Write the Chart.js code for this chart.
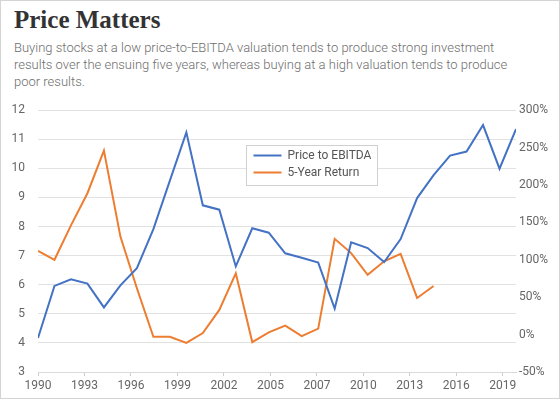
<!DOCTYPE html>
<html>
<head>
<meta charset="utf-8">
<script src="https://cdn.jsdelivr.net/npm/chart.js@4/dist/chart.umd.min.js"></script>
<style>
  html, body { margin: 0; padding: 0; background: #fff; }
  #wrap { position: relative; width: 560px; height: 399px; overflow: hidden; background: #fff; }
  #frame { position: absolute; left: 0; top: 0; width: 560px; height: 399px; box-sizing: border-box; border: 1px solid #d4d4d4; pointer-events: none; }
  h1 { position: absolute; left: 14px; top: 5px; margin: 0; font-family: "Liberation Serif", serif; font-weight: bold; font-size: 25px; line-height: 30px; color: #333; }
  .sub { position: absolute; left: 14px; top: 39px; margin: 0; font-family: Roboto, sans-serif; font-weight: 300; font-size: 13px; line-height: 17px; color: #6e6e6e; }
  #box { position: absolute; left: 0; top: 90px; width: 560px; height: 309px; }
</style>
</head>
<body>
<div id="wrap">
  <h1>Price Matters</h1>
  <p class="sub">Buying stocks at a low price-to-EBITDA valuation tends to produce strong investment<br>results over the ensuing five years, whereas buying at a high valuation tends to produce<br>poor results.</p>
  <div id="box"><canvas id="myChart"></canvas></div>
  <div id="frame"></div>
</div>
<script>
let years = [1990, 1991, 1992, 1993, 1994, 1995, 1996, 1997, 1998, 1999,
             2000, 2001, 2002, 2003, 2004, 2005, 2006, 2007, 2008, 2009,
             2010, 2011, 2012, 2013, 2014, 2015, 2016, 2017, 2018, 2019];
let priceToEbitda = [4.17, 5.96, 6.19, 6.04, 5.22, 5.98, 6.57, 7.91, 9.58, 11.24,
                     8.73, 8.58, 6.63, 7.94, 7.79, 7.08, 6.93, 6.76, 5.18, 7.46,
                     7.26, 6.78, 7.57, 8.98, 9.77, 10.44, 10.58, 11.49, 9.99, 11.35];
let fiveYearReturn = [112, 100, 146, 189, 246, 131, 62, -3, -3, -11,
                      2, 33, 82, -10, 3, 12, -2, 8, 128, 109,
                      80, 98, 108, 49, 65, null, null, null, null, null];
let xTickLabels = ["1990", "1993", "1996", "1999", "2002", "2005", "2007", "2010", "2013", "2016", "2019"];
let xTickStep = 2.82;

const legendInside = {
  id: 'legendInside',
  afterDatasetsDraw(chart) {
    const ctx = chart.ctx;
    const x = 246.5, y = 55.5, w = 131, h = 40;
    ctx.save();
    ctx.fillStyle = '#fff';
    ctx.fillRect(x, y, w, h);
    ctx.strokeStyle = '#d0d0d0';
    ctx.lineWidth = 1;
    ctx.strokeRect(x, y, w, h);
    ctx.font = '12px Roboto, sans-serif';
    ctx.textBaseline = 'middle';
    chart.data.datasets.forEach((ds, i) => {
      const ly = y + 10 + i * 17;
      ctx.strokeStyle = ds.borderColor;
      ctx.lineWidth = 2;
      ctx.beginPath();
      ctx.moveTo(x + 7, ly);
      ctx.lineTo(x + 35, ly);
      ctx.stroke();
      ctx.fillStyle = '#555';
      ctx.fillText(ds.label, x + 41, ly);
    });
    ctx.restore();
  }
};

function createChart() {
  const ctx = document.getElementById('myChart').getContext('2d');
  new Chart(ctx, {
    type: 'line',
    data: {
      datasets: [{
        label: 'Price to EBITDA',
        data: years.map((yr, i) => ({ x: yr, y: priceToEbitda[i] })),
        borderColor: '#4472c4',
        borderWidth: 2,
        pointRadius: 0,
        tension: 0,
        yAxisID: 'y'
      }, {
        label: '5-Year Return',
        data: years.map((yr, i) => ({ x: yr, y: fiveYearReturn[i] })),
        borderColor: '#ed7d31',
        borderWidth: 2,
        pointRadius: 0,
        tension: 0,
        yAxisID: 'y1'
      }]
    },
    options: {
      responsive: true,
      maintainAspectRatio: false,
      animation: false,
      layout: { padding: { top: 16, left: 0, right: 0, bottom: 0 } },
      plugins: { legend: { display: false }, tooltip: { enabled: false } },
      scales: {
        x: {
          type: 'linear',
          min: years[0],
          max: years[years.length - 1],
          afterBuildTicks: (scale) => {
            scale.ticks = xTickLabels.map((l, i) => ({ value: years[0] + i * xTickStep }));
          },
          afterFit: (scale) => { scale.height = 27; },
          grid: { drawOnChartArea: false, drawTicks: true, tickLength: 4, color: '#cfcfcf' },
          border: { color: '#d9d9d9' },
          ticks: {
            autoSkip: false,
            maxRotation: 0,
            padding: 3,
            color: '#666',
            font: { family: 'Roboto', size: 12 },
            callback: (v, i) => xTickLabels[i]
          }
        },
        y: {
          position: 'left',
          min: 3,
          max: 12,
          afterFit: (scale) => { scale.width = 38; },
          grid: { color: '#e2e2e2', drawTicks: false },
          border: { display: false },
          ticks: { stepSize: 1, padding: 13, color: '#666', font: { family: 'Roboto', size: 12 } }
        },
        y1: {
          position: 'right',
          min: -50,
          max: 300,
          afterFit: (scale) => { scale.width = 44; },
          grid: { display: false, drawTicks: false },
          border: { display: false },
          ticks: {
            stepSize: 50,
            padding: 3,
            color: '#666',
            font: { family: 'Roboto', size: 12 },
            callback: (v) => v + '%'
          }
        }
      }
    },
    plugins: [legendInside]
  });
}

window.onload = createChart;
</script>
</body>
</html>
